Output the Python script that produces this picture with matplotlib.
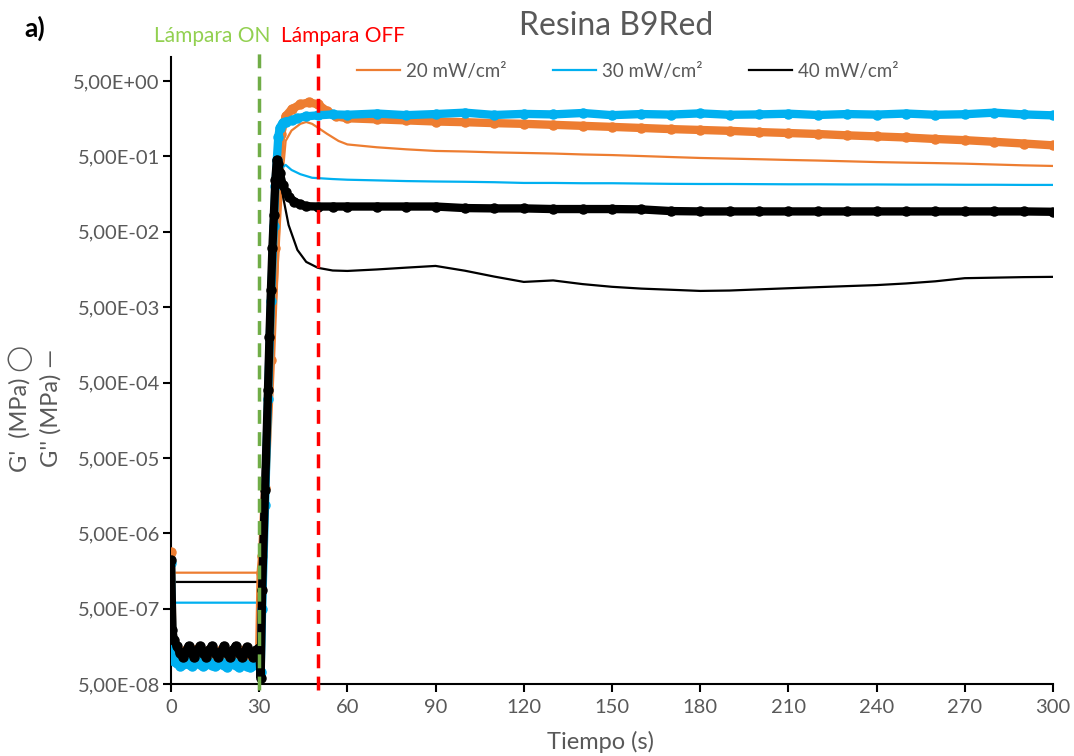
import matplotlib
matplotlib.use("Agg")
import matplotlib.pyplot as plt
from matplotlib.lines import Line2D
from matplotlib.ticker import FixedLocator, FuncFormatter, NullLocator

plt.rcParams['font.family'] = ['Lato', 'DejaVu Sans']

# ---- time grids (s) ----
t_low = [0, 0.5, 1, 2, 3, 4, 5, 6, 7, 8, 9, 10, 11, 12, 13, 14, 15, 16,
         17, 18, 19, 20, 21, 22, 23, 24, 25, 26, 27, 28, 29, 30]
t_tail = [60, 70, 80, 90, 100, 110, 120, 130, 140, 150, 160, 170, 180,
          190, 200, 210, 220, 230, 240, 250, 260, 270, 280, 290, 300]

# ---- G' (storage modulus, MPa) ----
g1_20_low = [2.8e-6, 1.6e-7, 1.3e-7,
             1.2e-7, 1.1e-7, 1.25e-7, 1.4e-7, 1.2e-7, 1.1e-7, 1.3e-7, 1.45e-7,
             1.2e-7, 1.1e-7, 1.3e-7, 1.4e-7, 1.2e-7, 1.1e-7, 1.3e-7, 1.4e-7,
             1.2e-7, 1.1e-7, 1.3e-7, 1.4e-7, 1.2e-7, 1.1e-7, 1.3e-7, 1.4e-7,
             1.2e-7, 1.1e-7, 1.3e-7, 1.35e-7, 1.25e-7]
t_g1_20_rise = [30.5, 31, 32, 34, 35.5, 36.5, 37.5, 39, 41, 44, 47, 50, 53, 56]
g1_20_rise = [1.5e-6, 2.5e-6, 2.0e-5, 1.0e-3, 0.03, 0.3, 1.0, 1.7, 2.1, 2.45,
              2.6, 2.45, 2.0, 1.7]
g1_20_tail = [1.6, 1.55, 1.5, 1.45, 1.42, 1.38, 1.35, 1.31, 1.27, 1.23, 1.19,
              1.15, 1.12, 1.09, 1.05, 1.02, 0.99, 0.95, 0.92, 0.89, 0.85,
              0.82, 0.78, 0.74, 0.70]

g1_30_low = [2.0e-6, 1.4e-7, 1.0e-7,
             9.5e-8, 8.8e-8, 9.3e-8, 10.0e-8, 9.2e-8, 8.7e-8, 9.4e-8, 10.0e-8,
             9.1e-8, 8.6e-8, 9.3e-8, 9.9e-8, 9.0e-8, 8.6e-8, 9.2e-8, 9.8e-8,
             9.0e-8, 8.5e-8, 9.2e-8, 9.7e-8, 8.9e-8, 8.5e-8, 9.1e-8, 9.6e-8,
             8.8e-8, 8.4e-8, 9.0e-8, 9.4e-8, 8.8e-8]
t_g1_30_rise = [30.5, 31, 32, 33, 34, 35, 35.5, 36, 36.5, 37, 38, 39, 41, 43,
                46, 50, 55]
g1_30_rise = [7.3e-8, 5.0e-7, 1.2e-5, 3.0e-4, 6.0e-3, 0.06, 0.2, 0.45, 0.9,
              1.2, 1.4, 1.45, 1.5, 1.6, 1.7, 1.75, 1.8]
g1_30_tail = [1.78, 1.85, 1.76, 1.82, 1.9, 1.77, 1.83, 1.8, 1.88, 1.76, 1.82,
              1.79, 1.86, 1.78, 1.8, 1.84, 1.77, 1.82, 1.79, 1.85, 1.78, 1.81,
              1.9, 1.8, 1.75]

g1_40_low = [2.2e-6, 2.6e-7, 1.9e-7,
             1.6e-7, 1.3e-7, 1.15e-7, 1.35e-7, 1.6e-7, 1.3e-7, 1.15e-7, 1.4e-7,
             1.6e-7, 1.3e-7, 1.15e-7, 1.4e-7, 1.6e-7, 1.3e-7, 1.15e-7, 1.35e-7,
             1.6e-7, 1.3e-7, 1.15e-7, 1.4e-7, 1.6e-7, 1.3e-7, 1.15e-7, 1.35e-7,
             1.55e-7, 1.3e-7, 1.15e-7, 1.4e-7, 1.5e-7]
t_g1_40_rise = [30.5, 31, 32, 33, 33.5, 34, 34.5, 35, 35.5, 36, 36.5, 37, 38,
                39, 40, 42, 44, 46, 50, 55]
g1_40_rise = [6.0e-8, 8.9e-7, 1.9e-5, 4.0e-4, 2.0e-3, 8.5e-3, 0.03, 0.084,
              0.24, 0.45, 0.40, 0.30, 0.21, 0.17, 0.145, 0.125, 0.115, 0.109,
              0.108, 0.108]
g1_40_tail = [0.108, 0.108, 0.108, 0.108, 0.103, 0.102, 0.102, 0.100, 0.100,
              0.100, 0.099, 0.094, 0.093, 0.093, 0.093, 0.093, 0.093, 0.093,
              0.093, 0.093, 0.093, 0.093, 0.093, 0.093, 0.092]

# ---- G'' (loss modulus, MPa) ----
t_g2_20 = [0, 0.5, 30, 30.5, 31, 32, 34, 36, 37, 38, 39, 41, 44, 46, 48, 50,
           53, 57]
g2_20 = [2.8e-6, 1.5e-6, 1.5e-6, 1.5e-6, 1.6e-6, 1.0e-5, 4.0e-4, 0.01, 0.06,
         0.3, 0.8, 1.1, 1.35, 1.43, 1.35, 1.2, 1.0, 0.8]
g2_20_tail = [0.72, 0.66, 0.62, 0.59, 0.58, 0.565, 0.555, 0.545, 0.53, 0.52,
              0.505, 0.49, 0.476, 0.467, 0.458, 0.448, 0.44, 0.43, 0.42,
              0.413, 0.407, 0.40, 0.39, 0.38, 0.373]

t_g2_30 = [0, 0.5, 30, 30.5, 31, 32, 33, 34, 35, 36, 37, 38, 39, 41, 44, 48, 55]
g2_30 = [2.0e-6, 6.0e-7, 6.0e-7, 4.0e-7, 1.0e-6, 1.5e-5, 3.0e-4, 6.0e-3, 0.06,
         0.2, 0.3, 0.36, 0.385, 0.33, 0.29, 0.26, 0.25]
g2_30_tail = [0.245, 0.24, 0.235, 0.232, 0.23, 0.227, 0.222, 0.222, 0.22,
              0.22, 0.218, 0.216, 0.215, 0.215, 0.214, 0.213, 0.213, 0.212,
              0.212, 0.211, 0.211, 0.21, 0.21, 0.209, 0.209]

t_g2_40 = [0, 0.5, 30, 30.5, 31, 32, 33, 34, 35, 36, 37, 38, 40, 43, 46, 50, 55]
g2_40 = [2.2e-6, 1.13e-6, 1.13e-6, 8.0e-8, 8.0e-7, 1.5e-5, 3.5e-4, 7.5e-3,
         0.08, 0.38, 0.25, 0.154, 0.0615, 0.0287, 0.0199, 0.0166, 0.0153]
g2_40_tail = [0.0151, 0.0158, 0.0167, 0.0176, 0.0152, 0.0127, 0.0108, 0.0113,
              0.0101, 0.0093, 0.0088, 0.0085, 0.0082, 0.0083, 0.0086, 0.0089,
              0.0092, 0.0095, 0.0098, 0.0103, 0.011, 0.0121, 0.0123, 0.0125,
              0.0126]

series_labels = ["20 mW/cm²", "30 mW/cm²", "40 mW/cm²"]
colors = ["#ED7D31", "#00B0F0", "#000000"]

yticks = [5e-8, 5e-7, 5e-6, 5e-5, 5e-4, 5e-3, 5e-2, 5e-1, 5e0]
xticks = [0, 30, 60, 90, 120, 150, 180, 210, 240, 270, 300]

lamp_on = 30
lamp_off = 50

gray = "#595959"

fig = plt.figure(figsize=(10.74, 7.56), dpi=100)
ax = fig.add_axes([0.1592, 0.0952, 0.8212, 0.8294])

storage = [
    (t_low + t_g1_20_rise + t_tail, g1_20_low + g1_20_rise + g1_20_tail),
    (t_low + t_g1_30_rise + t_tail, g1_30_low + g1_30_rise + g1_30_tail),
    (t_low + t_g1_40_rise + t_tail, g1_40_low + g1_40_rise + g1_40_tail),
]
loss = [
    (t_g2_20 + t_tail, g2_20 + g2_20_tail),
    (t_g2_30 + t_tail, g2_30 + g2_30_tail),
    (t_g2_40 + t_tail, g2_40 + g2_40_tail),
]

for i, c in enumerate(colors):
    tl, gl = loss[i]
    ax.plot(tl, gl, color=c, lw=1.6, zorder=2 + i)
    ts, gs = storage[i]
    ax.plot(ts, gs, color=c, lw=6, marker='o', ms=6.5, mec=c, mfc=c,
            solid_capstyle='round', solid_joinstyle='round', zorder=5 + i)

# lamp on/off markers
for x, col in [(lamp_on, "#70AD47"), (lamp_off, "#FF0000")]:
    ax.plot([x, x], [-0.01, 1.015], transform=ax.get_xaxis_transform(),
            color=col, lw=2.5, ls=(0, (4, 2.4)), clip_on=False, zorder=10)

ax.set_yscale('log')
ax.set_ylim(5e-8, 10.4)
ax.set_xlim(0, 300)
ax.yaxis.set_major_locator(FixedLocator(yticks))
ax.yaxis.set_minor_locator(NullLocator())
ax.yaxis.set_major_formatter(
    FuncFormatter(lambda v, p: f"{v:.2E}".replace('.', ',')))
ax.set_xticks(xticks)

for s in ['top', 'right']:
    ax.spines[s].set_visible(False)
for s in ['left', 'bottom']:
    ax.spines[s].set_linewidth(1.5)
    ax.spines[s].set_color('black')
ax.tick_params(axis='both', direction='out', length=6, width=1.5,
               colors='black', labelcolor=gray, labelsize=14.5, pad=5)
ax.tick_params(axis='y', pad=2)

fig.text(0.559, 0.018, "Tiempo (s)", ha='center', va='center',
         fontsize=17, color=gray)

handles = [Line2D([0], [0], color=c, lw=1.6) for c in colors]
ax.legend(handles, series_labels, loc='center', ncol=3, frameon=False,
          bbox_to_anchor=(0.518, 0.977), fontsize=13.5, handlelength=2.3,
          handletextpad=0.3, columnspacing=2.5, labelcolor=gray)

fig.text(0.574, 0.965, "Resina B9Red", ha='center', va='center',
         fontsize=23, color=gray)
fig.text(0.023, 0.962, "a)", ha='left', va='center', fontsize=19,
         fontweight='bold', color='black')
fig.text(0.198, 0.953, "Lámpara ON", ha='center', va='center',
         fontsize=15, color="#92D050")
fig.text(0.319, 0.953, "Lámpara OFF", ha='center', va='center',
         fontsize=15, color="#FF0000")
fig.text(0.019, 0.46, "G'  (MPa) ◯", rotation=90, ha='center', va='center',
         fontsize=17, color=gray)
fig.text(0.047, 0.46, "G'' (MPa) —", rotation=90, ha='center', va='center',
         fontsize=17, color=gray)

fig.savefig("out.png", dpi=100)
